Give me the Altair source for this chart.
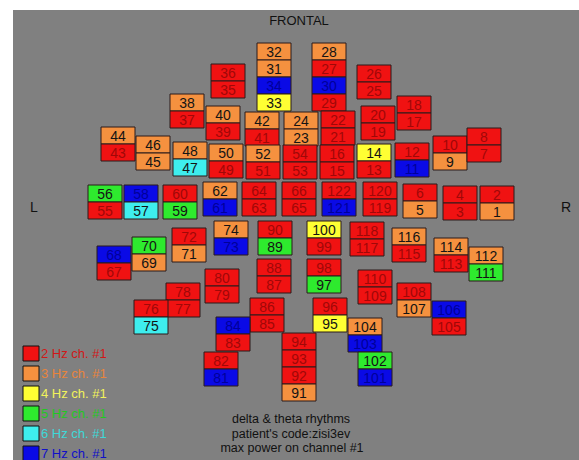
import altair as alt
import pandas as pd

# Dominant frequency (Hz) of max power on channel #1, for channels 1..122
peak_hz = [
    3, 2, 2, 2, 3, 2, 2, 2, 3, 2,
    7, 2, 2, 4, 2, 2, 2, 2, 2, 2,
    2, 2, 3, 3, 2, 2, 2, 3, 2, 7,
    3, 3, 4, 7, 2, 2, 2, 3, 2, 3,
    2, 3, 2, 3, 3, 3, 6, 3, 2, 3,
    2, 3, 2, 2, 2, 5, 6, 7, 5, 2,
    7, 3, 2, 2, 2, 2, 2, 7, 3, 5,
    3, 2, 7, 3, 6, 2, 2, 2, 2, 2,
    7, 2, 2, 7, 2, 2, 2, 2, 5, 2,
    3, 2, 2, 2, 4, 2, 5, 2, 2, 4,
    7, 5, 7, 3, 2, 7, 3, 2, 2, 2,
    5, 3, 2, 3, 2, 3, 2, 2, 2, 2,
    7, 2,
]

# Sensor montage: channel stacks (top to bottom) and their placement on the head map
montage_channels = [
    [32, 31, 34, 33], [28, 27, 30, 29], [36, 35], [26, 25],
    [38, 37], [40, 39], [42, 41], [24, 23], [22, 21], [20, 19], [18, 17],
    [44, 43], [46, 45], [48, 47], [50, 49], [52, 51], [54, 53], [16, 15],
    [14, 13], [12, 11], [10, 9], [8, 7],
    [56, 55], [58, 57], [60, 59], [62, 61], [64, 63], [66, 65], [122, 121],
    [120, 119], [6, 5], [4, 3], [2, 1],
    [68, 67], [70, 69], [72, 71], [74, 73], [90, 89], [100, 99], [118, 117],
    [116, 115], [114, 113], [112, 111],
    [80, 79], [88, 87], [98, 97], [110, 109], [78, 77], [76, 75], [86, 85],
    [96, 95], [108, 107], [106, 105], [84, 83], [104, 103], [82, 81],
    [102, 101], [94, 93, 92, 91],
]
montage_x = [
    257, 312, 211, 357,
    170, 206, 245, 284, 321, 361, 397,
    101, 136, 173, 209, 246, 283, 320,
    357, 395, 433, 467,
    88, 124, 163, 203, 242, 282, 322,
    363, 403, 443, 480,
    97, 132, 172, 214, 258, 307, 350,
    392, 434, 469,
    205, 257, 307, 358, 166, 134, 250,
    313, 397, 432, 216, 348, 204,
    358, 282,
]
montage_y = [
    43, 43, 64, 65,
    94, 106, 112, 112, 111, 106, 96,
    127, 136, 142, 144, 145, 145, 145,
    144, 143, 136, 128,
    185, 185, 185, 182, 182, 182, 182,
    182, 184, 186, 186,
    246, 237, 228, 221, 221, 221, 222,
    228, 238, 247,
    269, 259, 259, 270, 283, 300, 298,
    298, 283, 301, 317, 318, 352,
    352, 333,
]

freqs = [2, 3, 4, 5, 6, 7]
fill_colors = ["#F01212", "#F5913F", "#FFFF33", "#2EEA2E", "#3EEEEE", "#0A0AE6"]
label_colors = ["#A00808", "#141414", "#141414", "#141414", "#141414", "#00009A"]
legend_text_colors = ["#D01818", "#E8843C", "#F2F25A", "#22C822", "#3ED8D8", "#1010C8"]

CELL_W, CELL_H = 34, 17

rows = []
for chans, x0, y0 in zip(montage_channels, montage_x, montage_y):
    for i, ch in enumerate(chans):
        top = y0 + CELL_H * i
        rows.append({
            "channel": ch,
            "hz": peak_hz[ch - 1],
            "left": x0,
            "right": x0 + CELL_W,
            "top": top,
            "bottom": top + CELL_H,
            "cx": x0 + CELL_W / 2,
            "cy": top + CELL_H / 2,
        })
cells = pd.DataFrame(rows)

xs = alt.Scale(domain=[0, 579], nice=False, zero=False)
ys = alt.Scale(domain=[0, 460], nice=False, zero=False, reverse=True)
fill_scale = alt.Scale(domain=freqs, range=fill_colors)
label_scale = alt.Scale(domain=freqs, range=label_colors)
legend_scale = alt.Scale(domain=freqs, range=legend_text_colors)

FONT = "Liberation Sans"

panel = alt.Chart(pd.DataFrame({"a": [0]})).mark_rect(color="#808080").encode(
    x=alt.value(13), x2=alt.value(579), y=alt.value(10), y2=alt.value(460)
)

boxes = alt.Chart(cells).mark_rect(stroke="#2a1a1a", strokeWidth=1).encode(
    x=alt.X("left:Q", scale=xs, axis=None),
    x2="right:Q",
    y=alt.Y("top:Q", scale=ys, axis=None),
    y2="bottom:Q",
    fill=alt.Fill("hz:O", scale=fill_scale, legend=None),
)

numbers = alt.Chart(cells).mark_text(font=FONT, fontSize=14, baseline="middle", dy=1).encode(
    x=alt.X("cx:Q", scale=xs, axis=None),
    y=alt.Y("cy:Q", scale=ys, axis=None),
    text="channel:N",
    color=alt.Color("hz:O", scale=label_scale, legend=None),
)

# Hand-drawn key in the lower-left corner: swatch plus label tinted like its swatch
legend_df = pd.DataFrame({
    "hz": freqs,
    "label": [f"{f} Hz ch. #1" for f in freqs],
    "row": list(range(len(freqs))),
})
legend_df["top"] = 346 + 20 * legend_df["row"]
legend_df["bottom"] = legend_df["top"] + 15
legend_df["mid"] = legend_df["top"] + 7.5
legend_df["sx"] = 23
legend_df["sx2"] = 39
legend_df["tx"] = 41

legend_boxes = alt.Chart(legend_df).mark_rect(stroke="#111111", strokeWidth=1).encode(
    x=alt.X("sx:Q", scale=xs, axis=None),
    x2="sx2:Q",
    y=alt.Y("top:Q", scale=ys, axis=None),
    y2="bottom:Q",
    fill=alt.Fill("hz:O", scale=fill_scale, legend=None),
)
legend_labels = alt.Chart(legend_df).mark_text(font=FONT, fontSize=13, align="left", baseline="middle").encode(
    x=alt.X("tx:Q", scale=xs, axis=None),
    y=alt.Y("mid:Q", scale=ys, axis=None),
    text="label:N",
    fill=alt.Fill("hz:N", scale=legend_scale, legend=None),
)

notes = pd.DataFrame({
    "text": ["FRONTAL", "L", "R",
             "delta & theta rhythms", "patient's code:zisi3ev", "max power on channel #1"],
    "x": [299, 34, 566, 291, 291, 292],
    "y": [21, 208, 208, 419, 434, 448],
    "size": [13, 14, 14, 12.5, 12.5, 12.5],
})
annotations = alt.Chart(notes).mark_text(font=FONT, color="#111111", baseline="middle").encode(
    x=alt.X("x:Q", scale=xs, axis=None),
    y=alt.Y("y:Q", scale=ys, axis=None),
    text="text:N",
    size=alt.Size("size:Q", scale=None, legend=None),
)

chart = alt.layer(
    panel, boxes, numbers, legend_boxes, legend_labels, annotations
).resolve_scale(
    color="independent", fill="independent"
).properties(
    width=579, height=460, padding=0,
    autosize=alt.AutoSizeParams(type="none"),
    background="white",
).configure_view(strokeWidth=0)

chart.save("out.html", embed_options={"renderer": "svg", "actions": False})
